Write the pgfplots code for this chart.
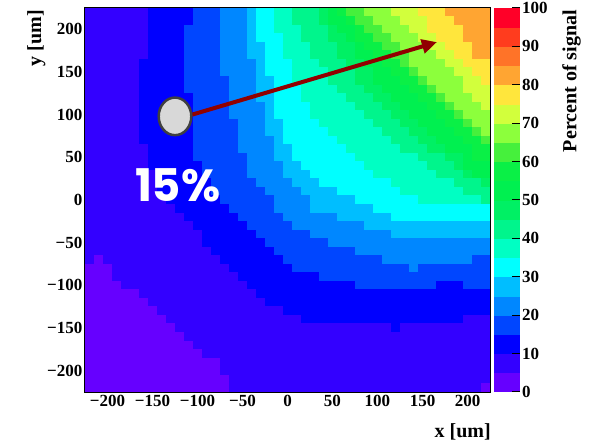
\documentclass[border=0pt]{standalone}
\usepackage{pgfplots}
\pgfplotsset{compat=1.18}
\usepackage{pgfplotstable}
\usepackage{fontspec}
\setmainfont{Liberation Serif}
\newfontfamily\popfont{Poppins}
\usetikzlibrary{arrows.meta}
\definecolor{arrowred}{RGB}{145,0,0}
\definecolor{ellfill}{RGB}{216,216,216}
\definecolor{ellline}{RGB}{64,64,64}

\pgfdeclareplotmark{cell}{\pgfpathrectangle{\pgfpoint{-4.75pt}{-4.5pt}}{\pgfpoint{9.5pt}{9pt}}\pgfusepathqfill}

% signal map: one line per y bin (um), columns c0..c44 are x = -220..220 um
\pgfplotstableread{
y c0 c1 c2 c3 c4 c5 c6 c7 c8 c9 c10 c11 c12 c13 c14 c15 c16 c17 c18 c19 c20 c21 c22 c23 c24 c25 c26 c27 c28 c29 c30 c31 c32 c33 c34 c35 c36 c37 c38 c39 c40 c41 c42 c43 c44
220 7 7 7 7 7 7 7 12 12 12 12 12 17 17 17 22 22 22 27 32 32 37 37 42 42 42 47 52 57 62 62 67 67 67 72 72 72 77 77 77 82 82 82 82 82
210 7 7 7 7 7 7 7 12 12 12 12 12 17 17 17 22 22 22 27 32 32 37 37 42 42 42 47 52 52 57 62 62 67 67 67 72 72 72 77 77 77 82 82 82 82
200 7 7 7 7 7 7 7 12 12 12 12 17 17 17 17 22 22 22 27 32 32 37 37 37 42 42 42 47 52 52 57 62 62 67 67 67 72 72 77 77 77 77 82 82 82
190 7 7 7 7 7 7 7 12 12 12 12 17 17 17 17 22 22 22 27 32 32 32 37 37 42 42 42 47 47 52 57 57 62 62 67 67 67 72 72 77 77 77 82 82 82
180 7 7 7 7 7 7 7 12 12 12 12 17 17 17 17 22 22 22 27 27 32 32 37 37 37 42 42 42 47 47 52 57 57 62 62 67 67 67 72 72 77 77 77 82 82
170 7 7 7 7 7 7 7 12 12 12 12 17 17 17 17 22 22 22 27 27 32 32 37 37 37 42 42 42 47 47 52 52 57 57 62 62 67 67 67 72 72 77 77 82 82
160 7 7 7 7 7 7 12 12 12 12 12 17 17 17 17 22 22 22 22 27 32 32 32 37 37 37 42 42 42 47 47 52 52 57 57 62 67 67 67 67 72 72 77 77 77
150 7 7 7 7 7 7 12 12 12 12 12 17 17 17 17 22 22 22 22 27 32 32 32 37 37 37 37 42 42 42 47 47 52 52 57 57 62 67 67 67 67 72 72 77 77
140 7 7 7 7 7 7 12 12 12 12 12 17 17 17 17 17 22 22 22 27 27 32 32 37 37 37 37 42 42 42 47 47 52 52 52 57 57 62 67 67 67 67 72 72 77
130 7 7 7 7 7 7 12 12 12 12 12 17 17 17 17 17 22 22 22 27 27 32 32 32 37 37 37 37 42 42 42 47 47 52 52 52 57 57 62 67 67 67 72 72 72
120 7 7 7 7 7 7 12 12 12 12 12 12 17 17 17 17 22 22 22 27 27 32 32 32 37 37 37 37 37 42 42 42 47 47 52 52 52 57 57 62 67 67 67 72 72
110 7 7 7 7 7 7 12 12 12 12 12 12 17 17 17 17 22 22 22 22 27 32 32 32 32 37 37 37 37 37 42 42 42 47 47 52 52 52 57 57 62 67 67 67 72
100 7 7 7 7 7 7 12 12 12 12 12 12 17 17 17 17 22 22 22 22 27 32 32 32 32 37 37 37 37 37 37 42 42 42 47 47 52 52 52 57 57 62 67 67 67
90 7 7 7 7 7 7 12 12 12 12 12 12 17 17 17 17 17 22 22 22 27 27 32 32 32 32 37 37 37 37 37 37 42 42 42 47 47 52 52 52 57 57 62 67 67
80 7 7 7 7 7 7 12 12 12 12 12 12 17 17 17 17 17 22 22 22 27 27 32 32 32 32 32 37 37 37 37 37 37 42 42 42 47 47 52 52 52 57 57 62 67
70 7 7 7 7 7 7 12 12 12 12 12 12 17 17 17 17 17 22 22 22 22 27 32 32 32 32 32 32 37 37 37 37 37 37 42 42 42 47 47 52 52 52 57 57 62
60 7 7 7 7 7 7 7 12 12 12 12 12 17 17 17 17 17 22 22 22 22 27 27 32 32 32 32 32 32 37 37 37 37 37 37 42 42 42 47 47 52 52 52 57 57
50 7 7 7 7 7 7 7 12 12 12 12 12 17 17 17 17 17 17 22 22 22 27 27 32 32 32 32 32 32 32 37 37 37 37 37 37 37 42 42 42 47 47 52 57 57
40 7 7 7 7 7 7 7 12 12 12 12 12 12 17 17 17 17 17 22 22 22 22 27 27 32 32 32 32 32 32 32 37 37 37 37 37 37 37 42 42 42 47 52 52 52
30 7 7 7 7 7 7 7 7 12 12 12 12 12 17 17 17 17 17 22 22 22 22 27 27 27 32 32 32 32 32 32 32 37 37 37 37 37 37 37 42 42 42 47 52 52
20 7 7 7 7 7 7 7 7 12 12 12 12 12 12 17 17 17 17 17 22 22 22 22 27 27 27 32 32 32 32 32 32 32 32 37 37 37 37 37 37 37 42 42 42 47
10 7 7 7 7 7 7 7 7 12 12 12 12 12 12 17 17 17 17 17 17 22 22 22 22 27 27 27 27 32 32 32 32 32 32 32 37 37 37 37 37 37 37 42 42 42
0 7 7 7 7 7 7 7 7 7 12 12 12 12 12 12 17 17 17 17 17 17 22 22 22 22 27 27 27 27 27 32 32 32 32 32 32 32 37 37 37 37 37 37 37 42
-10 7 7 7 7 7 7 7 7 7 7 12 12 12 12 12 12 17 17 17 17 17 22 22 22 22 27 27 27 27 27 27 27 32 32 32 32 32 32 32 32 32 32 32 32 32
-20 7 7 7 7 7 7 7 7 7 7 7 12 12 12 12 12 12 17 17 17 17 17 22 22 22 22 22 22 27 27 27 27 27 27 32 32 32 32 32 32 32 32 32 32 32
-30 7 7 7 7 7  7 7 7 7 7  7 7 12 12 12 12 12 12 17 17 17 17 17 22 22 22 22 22  22 22 22 27 27 27 27 27  27 27 27 27 27  27 27 27 27
-40 7 7 7 7 7  7 7 7 7 7  7 7 7 12 12 12 12 12 12 17 17 17 17 17 17 22 22 22 22 22  22 22 22 22 27 27 27 27 27  27 27 27 27 27  27
-50 7 7 7 7 7  7 7 7 7 7  7 7 7 12 12 12 12 12 12 12 17 17 17 17 17 17 17 22 22 22 22 22  22 22 22 22 22  22 22 22 22 22  22 22 22
-60 7 7 7 7 7  7 7 7 7 7  7 7 7 7 12 12 12 12 12 12 12 17 17 17 17 17  17 17 17 17 22 22 22 22 22  22 22 22 22 22  22 22 22 22 22
-70 7 2 7 7 7 7 7 7 7 7 7 7 7 7 7 12 12 12 12 12 12 12 17 17 17 17 17 17 17 17 17 17 17 22 22 22 22 22 22 22 22 22 22 17 17
-80 2 2 2 7 7 7 7 7 7 7 7 7 7 7 7 7 12 12 12 12 12 12 12 17 17 17 17 17 17 17 17 17 17 17 17 17 22 17 17 17 17 17 17 17 17
-90 2 2 2 7 7 7 7 7 7 7 7 7 7 7 7 7 7 12 12 12 12 12 12 12 12 12 17 17 17 17 17 17 17 17 17 17 17 17 17 17 17 17 17 17 17
-100 2 2 2 2 7 7 7 7 7  7 7 7 7 7  7 7 7 7 12 12 12 12 12  12 12 12 12 12  12 12 17 17 17 17 17 17 17 17 17 12 12 12 17 17 17
-110 2 2 2 2 2 2 7 7 7 7 7  7 7 7 7 7  7 7 7 12 12 12 12 12  12 12 12 12 12  12 12 12 12 12  12 12 12 12 12  12 12 12 12 12  12
-120 2 2 2 2 2 2 2 7 7 7 7 7  7 7 7 7 7  7 7 7 12 12 12 12 12  12 12 12 12 12  12 12 12 12 12  12 12 12 12 12  12 12 12 12 12
-130 2 2 2 2 2 2 2 2 7 7 7 7 7  7 7 7 7 7  7 7 7 7 12 12 12 12 12  12 12 12 12 12  12 12 12 12 12  12 12 12 12 12  12 12 12
-140 2 2 2 2 2 2 2 2 2 7 7 7 7 7  7 7 7 7 7  7 7 7 7 7 12 12 12 12 12  12 12 12 12 12  12 12 12 12 12  12 12 12 7 7 7
-150 2 2 2 2 2  2 2 2 2 2 7 7 7 7 7  7 7 7 7 7  7 7 7 7 7  7 7 7 7 7  7 7 7 7 12 7 7 7 7 7  7 7 7 7 7
-160 2 2 2 2 2  2 2 2 2 2  2 7 7 7 7 7  7 7 7 7 7  7 7 7 7 7  7 7 7 7 7  7 7 7 7 7  7 7 7 7 7  7 7 7 7
-170 2 2 2 2 2  2 2 2 2 2  2 2 7 7 7 7 7  7 7 7 7 7  7 7 7 7 7  7 7 7 7 7  7 7 7 7 7  7 7 7 7 7  7 7 7
-180 2 2 2 2 2  2 2 2 2 2  2 2 2 7 7 7 7 7  7 7 7 7 7  7 7 7 7 7  7 7 7 7 7  7 7 7 7 7  7 7 7 7 7  7 7
-190 2 2 2 2 2  2 2 2 2 2  2 2 2 2 2 7 7 7 7 7  7 7 7 7 7  7 7 7 7 7  7 7 7 7 7  7 7 7 7 7  7 7 7 7 7
-200 2 2 2 2 2  2 2 2 2 2  2 2 2 2 2 7 7 7 7 7  7 7 7 7 7  7 7 7 7 7  7 7 7 7 7  7 7 7 7 7  7 7 7 7 7
-210 2 2 2 2 2  2 2 2 2 2  2 2 2 2 2  2 7 7 7 7 7  7 7 7 7 7  7 7 7 7 7  7 7 7 7 7  7 7 7 7 7  7 7 7 7
-220 2 2 2 2 2  2 2 2 2 2  2 2 2 2 2  2 7 7 7 7 7  7 7 7 7 7  7 7 7 7 7  7 7 7 7 7  7 7 7 7 7  7 7 7 2
}\maptable

\begin{document}
\begin{tikzpicture}
\useasboundingbox (0pt,0pt) rectangle (595pt,446pt);
\begin{axis}[
  at={(85pt,54pt)}, anchor=south west,
  scale only axis, width=405pt, height=384pt,
  xmin=-225, xmax=225, ymin=-225, ymax=225,
  axis on top,
  colormap={rootpal}{
    rgb255=(102,0,255) rgb255=(51,0,255) rgb255=(0,0,255) rgb255=(0,70,255)
    rgb255=(0,135,255) rgb255=(0,190,255) rgb255=(0,255,255) rgb255=(0,255,195)
    rgb255=(0,245,140) rgb255=(0,240,100) rgb255=(0,240,80) rgb255=(10,240,70)
    rgb255=(70,240,60) rgb255=(140,255,60) rgb255=(210,255,60) rgb255=(255,230,60)
    rgb255=(255,165,50) rgb255=(255,115,40) rgb255=(255,60,30) rgb255=(255,0,40)},
  colormap access=piecewise constant,
  point meta min=0, point meta max=100,
  xtick={-200,-150,-100,-50,0,50,100,150,200},
  xticklabels={−200,−150,−100,−50,0,50,100,150,200},
  ytick={-200,-150,-100,-50,0,50,100,150,200},
  yticklabels={−200,−150,−100,−50,0,50,100,150,200},
  minor x tick num=4, minor y tick num=4,
  tick align=inside, xtick pos=both, ytick pos=both,
  major tick length=11pt, minor tick length=6pt,
  tick style={black, line width=1pt},
  axis line style={black, line width=1.2pt},
  ticklabel style={font=\bfseries\fontsize{17}{17}\selectfont},
  yticklabel style={inner sep=2.5pt},
  colorbar,
  colorbar shift/.style={},
  colorbar style={
    at={(parent axis.north east)}, anchor=north west, xshift=3.5pt,
    width=26pt,
    ytick={0,10,20,30,40,50,60,70,80,90,100},
    yticklabels={0,10,20,30,40,50,60,70,80,90,100},
    minor y tick num=0,
    ytick pos=right, yticklabel pos=right,
    tick align=inside, major tick length=8pt,
    ytick style={black, line width=1pt},
    axis line style={draw=none},
    yticklabel style={font=\bfseries\fontsize{17}{17}\selectfont, inner sep=2.5pt},
  },
]
\pgfplotsinvokeforeach{0,...,44}{
  \addplot[scatter, only marks, mark=cell, point meta=explicit,
    scatter/use mapped color={draw=none, fill=mapped color}]
    table[x expr={-220+10*#1}, y=y, meta=c#1] {\maptable};
}
\coordinate (arrS) at (axis cs:-106,100);
\coordinate (arrE) at (axis cs:166,185);
\coordinate (ellC) at (axis cs:-125,98);
\coordinate (txtC) at (axis cs:-122,17);
\end{axis}
\draw[arrowred, line width=4pt, -{Triangle[length=15pt,width=14pt]}] (arrS) -- (arrE);
\draw[ellline, line width=2.5pt, fill=ellfill] (ellC) ellipse [x radius=16.3pt, y radius=18.8pt];
\node[text=white, font=\popfont\bfseries\fontsize{45}{45}\selectfont] at (txtC) {15\%};
\node[anchor=base east, font=\bfseries\fontsize{20}{20}\selectfont, inner sep=0pt] at (491pt,8pt) {x [um]};
\node[rotate=90, anchor=north east, font=\bfseries\fontsize{20}{20}\selectfont, inner sep=0pt] at (27pt,436pt) {y [um]};
\node[rotate=90, anchor=north east, font=\bfseries\fontsize{20}{20}\selectfont, inner sep=0pt] at (562pt,436pt) {Percent of signal};
\end{tikzpicture}
\end{document}
